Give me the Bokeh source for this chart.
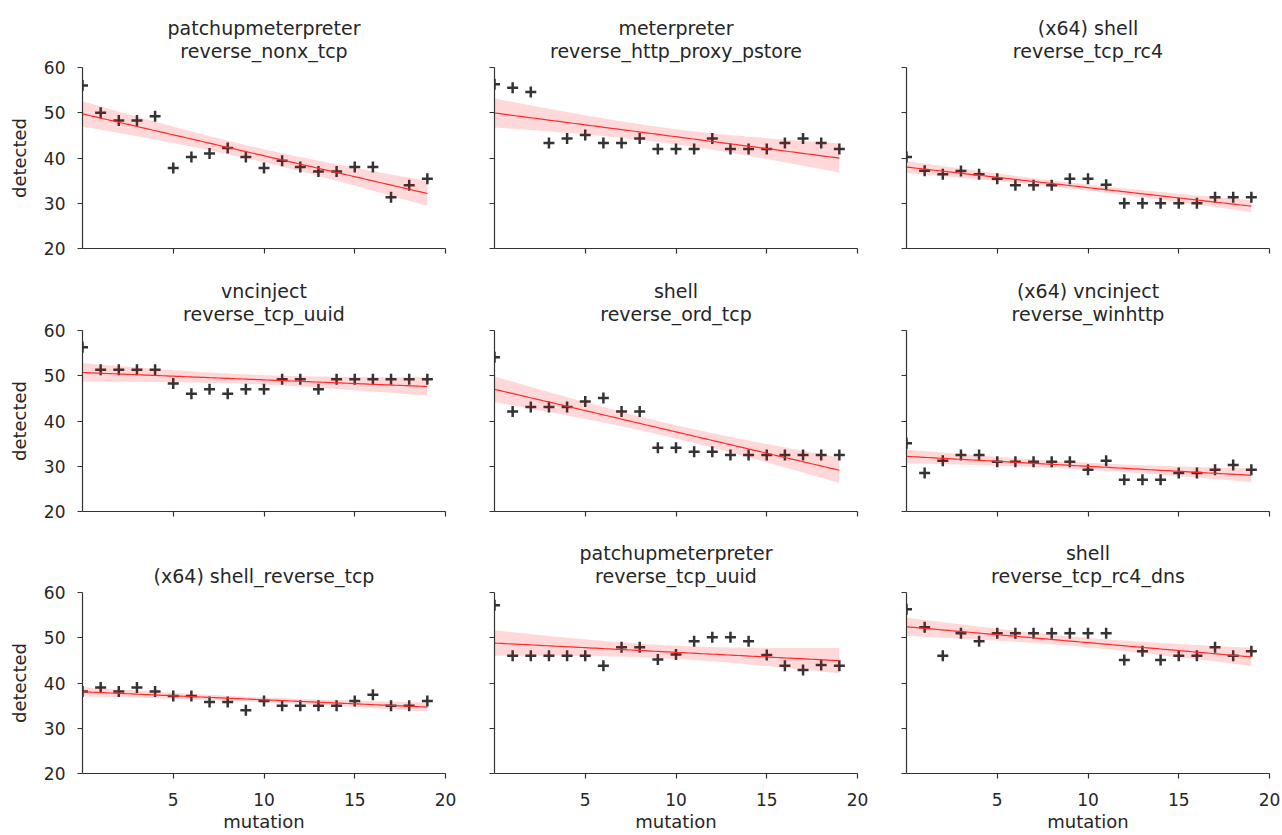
import numpy as np
from bokeh.plotting import figure
from bokeh.layouts import gridplot
from bokeh.models import Range1d, FixedTicker, Title
from bokeh.embed import file_html
from bokeh.resources import INLINE

# ---- data ----
mutation = list(range(20))

titles = [
    ["patchupmeterpreter", "reverse_nonx_tcp"],
    ["meterpreter", "reverse_http_proxy_pstore"],
    ["(x64) shell", "reverse_tcp_rc4"],
    ["vncinject", "reverse_tcp_uuid"],
    ["shell", "reverse_ord_tcp"],
    ["(x64) vncinject", "reverse_winhttp"],
    ["(x64) shell_reverse_tcp"],
    ["patchupmeterpreter", "reverse_tcp_uuid"],
    ["shell", "reverse_tcp_rc4_dns"],
]

det_patchup_nonx = [56, 50, 48.3, 48.3, 49.2, 37.8, 40.2, 41, 42.2, 40.2,
                    37.8, 39.4, 38, 37, 37, 38, 38, 31.3, 34, 35.4]
det_meter_http = [56.3, 55.5, 54.6, 43.3, 44.3, 45.1, 43.3, 43.3, 44.3, 42,
                  42, 42, 44.3, 42, 42, 42, 43.3, 44.3, 43.3, 42]
det_x64shell_rc4 = [40.2, 37.2, 36.4, 37.1, 36.4, 35.4, 34, 34, 34, 35.4,
                    35.4, 34.1, 30, 30, 30, 30, 30, 31.3, 31.3, 31.3]
det_vnc_uuid = [56.3, 51.3, 51.3, 51.3, 51.3, 48.3, 46, 47, 46, 47,
                47, 49.2, 49.2, 47, 49.2, 49.2, 49.2, 49.2, 49.2, 49.2]
det_shell_ord = [54.1, 42.1, 43.1, 43.1, 43.1, 44.3, 45.1, 42.1, 42.1, 34.1,
                 34.1, 33.2, 33.2, 32.5, 32.5, 32.5, 32.5, 32.5, 32.5, 32.5]
det_x64vnc_winhttp = [35.1, 28.5, 31.2, 32.5, 32.5, 31, 31, 31, 31, 31,
                      29.2, 31.2, 27, 27, 27, 28.5, 28.5, 29.2, 30.3, 29.2]
det_x64shell_tcp = [38.1, 39, 38.1, 39, 38.1, 37.1, 37.1, 35.8, 35.8, 34,
                    36, 35, 35, 35, 35, 36, 37.4, 35, 35, 36]
det_patchup_uuid = [57.2, 46, 46, 46, 46, 46, 43.8, 47.9, 47.9, 45.2,
                    46.3, 49.2, 50.1, 50.1, 49.2, 46.2, 43.8, 42.9, 44, 43.8]
det_shell_rc4dns = [56.3, 52.3, 46, 51, 49.2, 51, 51, 51, 51, 51,
                    51, 51, 45.1, 47, 45.1, 46, 46, 47.9, 46, 47]

series = [det_patchup_nonx, det_meter_http, det_x64shell_rc4,
          det_vnc_uuid, det_shell_ord, det_x64vnc_winhttp,
          det_x64shell_tcp, det_patchup_uuid, det_shell_rc4dns]

x_ticks = [5, 10, 15, 20]
y_ticks = [20, 30, 40, 50, 60]

# ---- styling / layout ----
FONT = "DejaVu Sans"
TXT = "#262626"
AX = "#333333"
FRAME_W, FRAME_H = 363, 181
lefts = [82, 29, 29]
rights = [20, 20, 13]
tops = [67, 72, 71]
bottoms = [10, 10, 62]
T95 = 2.101  # t quantile, df = 18


def fit_band(x, y):
    x = np.asarray(x, float)
    y = np.asarray(y, float)
    n = len(x)
    b, a = np.polyfit(x, y, 1)
    resid = y - (a + b * x)
    s = np.sqrt(np.sum(resid ** 2) / (n - 2))
    xm = x.mean()
    sxx = np.sum((x - xm) ** 2)
    xs = np.linspace(x.min(), x.max(), 100)
    yh = a + b * xs
    se = s * np.sqrt(1.0 / n + (xs - xm) ** 2 / sxx)
    return xs, yh, yh - T95 * se, yh + T95 * se


def make_title(text, standoff):
    return Title(text=text, align="center", text_font=FONT, text_font_size="19px",
                 text_font_style="normal", text_color=TXT, standoff=standoff)


rows = []
for r in range(3):
    row = []
    for c in range(3):
        i = r * 3 + c
        W = lefts[c] + FRAME_W + rights[c]
        H = tops[r] + FRAME_H + bottoms[r]
        p = figure(width=W, height=H, x_range=Range1d(0, 20), y_range=Range1d(20, 60),
                   output_backend="svg", toolbar_location=None,
                   min_border_left=lefts[c], min_border_right=rights[c],
                   min_border_top=tops[r], min_border_bottom=bottoms[r])
        p.title.visible = False
        lines = titles[i]
        # nearest to the frame first
        p.add_layout(make_title(lines[-1], 11), "above")
        if len(lines) > 1:
            p.add_layout(make_title(lines[0], -12), "above")

        y = series[i]
        p.scatter(mutation, y, marker="cross", size=11, line_width=2.5,
                  line_color="#333333")
        xs, yh, lo, hi = fit_band(mutation, y)
        p.varea(x=xs, y1=lo, y2=hi, fill_color="red", fill_alpha=0.15)
        p.line(xs, yh, line_color="#ff2a2a", line_width=1.2)

        p.xgrid.visible = False
        p.ygrid.visible = False
        p.outline_line_color = None
        p.xaxis.ticker = FixedTicker(ticks=x_ticks)
        p.yaxis.ticker = FixedTicker(ticks=y_ticks)
        for ax in (p.xaxis[0], p.yaxis[0]):
            ax.axis_line_color = AX
            ax.axis_line_width = 1.2
            ax.major_tick_line_color = AX
            ax.major_tick_line_width = 1.2
            ax.major_tick_out = 5
            ax.major_tick_in = 0
            ax.minor_tick_line_color = None
            ax.major_label_text_font = FONT
            ax.major_label_text_font_size = "17px"
            ax.major_label_text_color = TXT
            ax.axis_label_text_font = FONT
            ax.axis_label_text_font_size = "18px"
            ax.axis_label_text_font_style = "normal"
            ax.axis_label_text_color = TXT
        p.yaxis.major_label_standoff = 12
        p.yaxis.axis_label_standoff = 11
        p.xaxis.major_label_standoff = 14
        p.xaxis.axis_label_standoff = 2
        if c == 0:
            p.yaxis.axis_label = "detected"
        else:
            p.yaxis.major_label_text_font_size = "0px"
            p.yaxis.major_label_text_color = None
        if r == 2:
            p.xaxis.axis_label = "mutation"
        else:
            p.xaxis.major_label_text_font_size = "0px"
            p.xaxis.major_label_text_color = None
        row.append(p)
    rows.append(row)

grid = gridplot(rows, toolbar_location=None)

open("out.html", "w").write(file_html(grid, INLINE))
